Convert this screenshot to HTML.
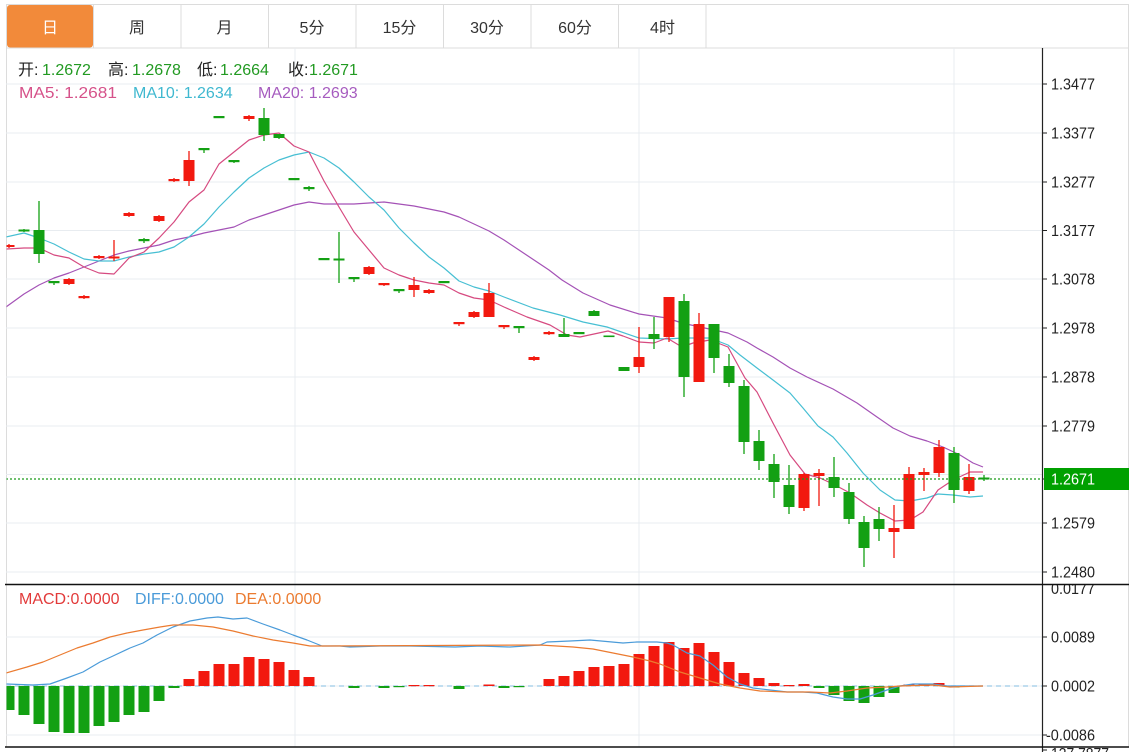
<!DOCTYPE html>
<html><head><meta charset="utf-8"><style>
html,body{margin:0;padding:0;background:#fff;}
svg{display:block;}
text{font-family:"Liberation Sans","Noto Sans CJK SC",sans-serif;}
</style></head><body>
<svg width="1137" height="752" viewBox="0 0 1137 752" xmlns="http://www.w3.org/2000/svg">
<defs>
<clipPath id="cm"><rect x="6.5" y="48.5" width="1035.5" height="535"/></clipPath>
<clipPath id="cd"><rect x="6.5" y="585" width="1035.5" height="161.5"/></clipPath>
<clipPath id="cz"><rect x="1043" y="585" width="90" height="170"/></clipPath>
</defs>
<!-- tab bar -->
<rect x="6.5" y="4.5" width="1122" height="43.5" fill="#fff" stroke="#dcdcdc"/>
<rect x="7" y="5" width="86" height="42.5" rx="3" fill="#f28a3a"/>
<g stroke="#dcdcdc">
<line x1="93.5" y1="5" x2="93.5" y2="48"/><line x1="181" y1="5" x2="181" y2="48"/><line x1="268.5" y1="5" x2="268.5" y2="48"/><line x1="356" y1="5" x2="356" y2="48"/><line x1="443.5" y1="5" x2="443.5" y2="48"/><line x1="531" y1="5" x2="531" y2="48"/><line x1="618.5" y1="5" x2="618.5" y2="48"/><line x1="706" y1="5" x2="706" y2="48"/>
</g>
<g font-size="16" fill="#333" text-anchor="middle">
<text x="50" y="33" fill="#fff">日</text><text x="137" y="33">周</text><text x="224.5" y="33">月</text><text x="312" y="33">5分</text><text x="399.5" y="33">15分</text><text x="487" y="33">30分</text><text x="575" y="33">60分</text><text x="662.5" y="33">4时</text>
</g>
<!-- frame -->
<g stroke="#dcdcdc">
<line x1="6.5" y1="48" x2="6.5" y2="747"/><line x1="1128.5" y1="48" x2="1128.5" y2="747"/>
</g>
<!-- grids -->
<g stroke="#e8ecf0" stroke-width="1">
<line x1="6" y1="84" x2="1042" y2="84"/><line x1="6" y1="133" x2="1042" y2="133"/><line x1="6" y1="182" x2="1042" y2="182"/><line x1="6" y1="230.5" x2="1042" y2="230.5"/><line x1="6" y1="279" x2="1042" y2="279"/><line x1="6" y1="328" x2="1042" y2="328"/><line x1="6" y1="377" x2="1042" y2="377"/><line x1="6" y1="426" x2="1042" y2="426"/><line x1="6" y1="474.5" x2="1042" y2="474.5"/><line x1="6" y1="523" x2="1042" y2="523"/><line x1="6" y1="572" x2="1042" y2="572"/>
<line x1="6" y1="637" x2="1042" y2="637"/><line x1="6" y1="686" x2="1042" y2="686"/><line x1="6" y1="735" x2="1042" y2="735"/>
<line x1="295" y1="48" x2="295" y2="747"/><line x1="639" y1="48" x2="639" y2="747"/><line x1="954" y1="48" x2="954" y2="747"/>
</g>
<!-- main panel -->
<g clip-path="url(#cm)">
<g fill="none" stroke-width="1.2" stroke-linejoin="round">
<polyline stroke="#a452b6" points="6,307 24,294 39,285 54,278 69,273 84,267 99,261 114,255 129,251 144,248 159,245 174,240 189,237 204,233 219,230 234,227 249,220 264,215 279,210 294,205 309,202 324,204 339,204 354,204 369,203 384,202 399,204 414,206 429,209 444,212 459,217 474,224 489,231 504,240 519,250 534,260 549,270 562,280 583,293 610,305 639,314 667,318 682,323 700,327 728,333 747,342 757,348 773,357 790,368 807,377 833,389 857,403 877,417 893,428 910,436 927,441 943,447 960,455 973,463 983,467"/>
<polyline stroke="#47bfd3" points="6,237 24,233 39,238 54,244 69,252 84,259 99,261 114,261 129,257 144,254 159,252 174,247 189,237 204,224 219,207 234,192 249,178 264,168 279,160 294,155 309,152 324,158 339,168 354,182 369,197 384,210 399,228 414,243 429,257 444,268 459,281 474,287 489,291 504,297 533,308 560,315 583,322 607,327 639,338 667,339 683,338 710,338 728,345 740,355 757,368 773,380 790,393 803,408 818,426 833,437 847,453 863,473 880,490 895,500 910,501 927,498 938,494 953,495 970,497 983,496"/>
<polyline stroke="#d64a80" points="6,249 24,248 39,248 54,255 69,258 84,267 99,273 114,274 129,258 144,252 159,238 174,222 189,202 204,190 219,164 234,152 249,140 264,135 279,133 294,146 309,152 324,181 339,207 354,232 369,250 384,268 399,275 414,280 429,283 444,285 459,293 474,298 489,300 504,307 527,317 550,325 567,335 580,337 608,331 623,336 639,342 654,343 667,338 682,347 693,343 710,340 728,347 745,378 757,392 773,423 790,455 805,474 820,478 833,484 850,493 867,505 880,513 895,521 910,520 923,512 938,490 953,480 970,472 983,472"/>
</g>
<!-- red candles -->
<g fill="#f2190f" stroke="#f2190f" stroke-width="1.3">
<line x1="9" y1="244" x2="9" y2="248"/><rect x="3.5" y="245" width="11" height="2" stroke="none"/>
<line x1="69" y1="278" x2="69" y2="285"/><rect x="63.5" y="279" width="11" height="5" stroke="none"/>
<line x1="84" y1="295" x2="84" y2="299"/><rect x="78.5" y="296" width="11" height="2.2" stroke="none"/>
<line x1="99" y1="255" x2="99" y2="259"/><rect x="93.5" y="256" width="11" height="2.2" stroke="none"/>
<line x1="114" y1="240" x2="114" y2="261"/><rect x="108.5" y="256.5" width="11" height="2" stroke="none"/>
<line x1="129" y1="212" x2="129" y2="217"/><rect x="123.5" y="213" width="11" height="3" stroke="none"/>
<line x1="159" y1="215" x2="159" y2="222"/><rect x="153.5" y="216" width="11" height="5" stroke="none"/>
<line x1="174" y1="178" x2="174" y2="182"/><rect x="168.5" y="179" width="11" height="2.2" stroke="none"/>
<line x1="189" y1="151" x2="189" y2="186"/><rect x="183.5" y="160" width="11" height="21" stroke="none"/>
<line x1="249" y1="115" x2="249" y2="121"/><rect x="243.5" y="116" width="11" height="3" stroke="none"/>
<line x1="369" y1="266" x2="369" y2="275"/><rect x="363.5" y="267" width="11" height="7" stroke="none"/>
<line x1="384" y1="283" x2="384" y2="286"/><rect x="378.5" y="283" width="11" height="2.2" stroke="none"/>
<line x1="414" y1="277" x2="414" y2="297"/><rect x="408.5" y="285" width="11" height="5" stroke="none"/>
<line x1="429" y1="289" x2="429" y2="294"/><rect x="423.5" y="290" width="11" height="3" stroke="none"/>
<line x1="459" y1="322" x2="459" y2="326"/><rect x="453.5" y="322" width="11" height="2.2" stroke="none"/>
<line x1="474" y1="311" x2="474" y2="318"/><rect x="468.5" y="312" width="11" height="5" stroke="none"/>
<line x1="489" y1="283" x2="489" y2="317"/><rect x="483.5" y="293" width="11" height="24" stroke="none"/>
<line x1="504" y1="325" x2="504" y2="329"/><rect x="498.5" y="325" width="11" height="2.2" stroke="none"/>
<line x1="534" y1="356" x2="534" y2="361"/><rect x="528.5" y="357" width="11" height="3" stroke="none"/>
<line x1="549" y1="331" x2="549" y2="335"/><rect x="543.5" y="332" width="11" height="2.2" stroke="none"/>
<line x1="639" y1="327" x2="639" y2="373"/><rect x="633.5" y="357" width="11" height="10" stroke="none"/>
<line x1="669" y1="297" x2="669" y2="342"/><rect x="663.5" y="297" width="11" height="40" stroke="none"/>
<line x1="699" y1="313" x2="699" y2="382"/><rect x="693.5" y="324" width="11" height="58" stroke="none"/>
<line x1="804" y1="473" x2="804" y2="511"/><rect x="798.5" y="474" width="11" height="34" stroke="none"/>
<line x1="819" y1="469" x2="819" y2="506"/><rect x="813.5" y="473" width="11" height="3" stroke="none"/>
<line x1="894" y1="505" x2="894" y2="558"/><rect x="888.5" y="528" width="11" height="4" stroke="none"/>
<line x1="909" y1="467" x2="909" y2="529"/><rect x="903.5" y="474" width="11" height="55" stroke="none"/>
<line x1="924" y1="468" x2="924" y2="491"/><rect x="918.5" y="472" width="11" height="3" stroke="none"/>
<line x1="939" y1="440" x2="939" y2="477"/><rect x="933.5" y="447" width="11" height="26" stroke="none"/>
<line x1="969" y1="464" x2="969" y2="494"/><rect x="963.5" y="477" width="11" height="14" stroke="none"/>
</g>
<!-- green candles -->
<g fill="#13a013" stroke="#13a013" stroke-width="1.3">
<line x1="24" y1="229" x2="24" y2="232"/><rect x="18.5" y="229.5" width="11" height="2" stroke="none"/>
<line x1="39" y1="201" x2="39" y2="263"/><rect x="33.5" y="230" width="11" height="24" stroke="none"/>
<line x1="54" y1="281" x2="54" y2="285"/><rect x="48.5" y="281" width="11" height="2.2" stroke="none"/>
<line x1="144" y1="238" x2="144" y2="243"/><rect x="138.5" y="239" width="11" height="2.2" stroke="none"/>
<line x1="204" y1="148" x2="204" y2="153"/><rect x="198.5" y="148" width="11" height="2.2" stroke="none"/>
<rect x="213.5" y="116" width="11" height="2.2" stroke="none"/>
<line x1="234" y1="160" x2="234" y2="163"/><rect x="228.5" y="160" width="11" height="2.2" stroke="none"/>
<line x1="264" y1="108" x2="264" y2="141"/><rect x="258.5" y="118" width="11" height="17" stroke="none"/>
<line x1="279" y1="134" x2="279" y2="139"/><rect x="273.5" y="134" width="11" height="4" stroke="none"/>
<rect x="288.5" y="178" width="11" height="2.2" stroke="none"/>
<line x1="309" y1="186" x2="309" y2="191"/><rect x="303.5" y="187" width="11" height="2.2" stroke="none"/>
<rect x="318.5" y="258" width="11" height="2.2" stroke="none"/>
<line x1="339" y1="232" x2="339" y2="283"/><rect x="333.5" y="258.5" width="11" height="2" stroke="none"/>
<line x1="354" y1="277" x2="354" y2="282"/><rect x="348.5" y="277" width="11" height="2.2" stroke="none"/>
<line x1="399" y1="289" x2="399" y2="293"/><rect x="393.5" y="289" width="11" height="2.2" stroke="none"/>
<rect x="438.5" y="281" width="11" height="2.2" stroke="none"/>
<line x1="519" y1="326" x2="519" y2="333"/><rect x="513.5" y="326" width="11" height="2.2" stroke="none"/>
<line x1="564" y1="318" x2="564" y2="337"/><rect x="558.5" y="334" width="11" height="3" stroke="none"/>
<rect x="573.5" y="332" width="11" height="2.2" stroke="none"/>
<line x1="594" y1="310" x2="594" y2="316"/><rect x="588.5" y="311" width="11" height="5" stroke="none"/>
<rect x="603.5" y="335.5" width="11" height="1.6" stroke="none"/>
<rect x="618.5" y="367" width="11" height="4" stroke="none"/>
<line x1="654" y1="317" x2="654" y2="349"/><rect x="648.5" y="334" width="11" height="5" stroke="none"/>
<line x1="684" y1="294" x2="684" y2="397"/><rect x="678.5" y="301" width="11" height="76" stroke="none"/>
<line x1="714" y1="324" x2="714" y2="373"/><rect x="708.5" y="324" width="11" height="34" stroke="none"/>
<line x1="729" y1="354" x2="729" y2="387"/><rect x="723.5" y="366" width="11" height="17" stroke="none"/>
<line x1="744" y1="380" x2="744" y2="454"/><rect x="738.5" y="386" width="11" height="56" stroke="none"/>
<line x1="759" y1="430" x2="759" y2="470"/><rect x="753.5" y="441" width="11" height="20" stroke="none"/>
<line x1="774" y1="454" x2="774" y2="498"/><rect x="768.5" y="464" width="11" height="18" stroke="none"/>
<line x1="789" y1="465" x2="789" y2="514"/><rect x="783.5" y="485" width="11" height="22" stroke="none"/>
<line x1="834" y1="457" x2="834" y2="497"/><rect x="828.5" y="477" width="11" height="11" stroke="none"/>
<line x1="849" y1="483" x2="849" y2="524"/><rect x="843.5" y="492" width="11" height="27" stroke="none"/>
<line x1="864" y1="516" x2="864" y2="567"/><rect x="858.5" y="522" width="11" height="26" stroke="none"/>
<line x1="879" y1="507" x2="879" y2="541"/><rect x="873.5" y="519" width="11" height="10" stroke="none"/>
<line x1="954" y1="447" x2="954" y2="503"/><rect x="948.5" y="453" width="11" height="37" stroke="none"/>
<line x1="984" y1="475" x2="984" y2="481"/><rect x="978.5" y="477.5" width="11" height="2" stroke="none"/>
</g>
<line x1="6" y1="479" x2="1042" y2="479" stroke="#1a9a1a" stroke-width="1.2" stroke-dasharray="2,2"/>
</g>
<!-- legends -->
<g font-size="16">
<text x="18" y="75" fill="#222">开:</text><text x="42" y="75" fill="#229a22">1.2672</text>
<text x="108" y="75" fill="#222">高:</text><text x="132" y="75" fill="#229a22">1.2678</text>
<text x="197" y="75" fill="#222">低:</text><text x="220" y="75" fill="#229a22">1.2664</text>
<text x="288" y="75" fill="#222">收:</text><text x="309" y="75" fill="#229a22">1.2671</text>
<text x="19" y="98" fill="#d6528a" textLength="98" lengthAdjust="spacingAndGlyphs">MA5: 1.2681</text>
<text x="133" y="98" fill="#3fb8d0">MA10: 1.2634</text>
<text x="258" y="98" fill="#a65cbf">MA20: 1.2693</text>
</g>
<!-- MACD panel -->
<g clip-path="url(#cd)">
<line x1="6" y1="686" x2="1042" y2="686" stroke="#9ccbe6" stroke-width="1.2" stroke-dasharray="5,4"/>
<g fill="#f2190f">
<rect x="183.5" y="679" width="11" height="7"/><rect x="198.5" y="671" width="11" height="15"/><rect x="213.5" y="664" width="11" height="22"/><rect x="228.5" y="664" width="11" height="22"/><rect x="243.5" y="657" width="11" height="29"/><rect x="258.5" y="659" width="11" height="27"/><rect x="273.5" y="662" width="11" height="24"/><rect x="288.5" y="670" width="11" height="16"/><rect x="303.5" y="677" width="11" height="9"/>
<rect x="408.5" y="685" width="11" height="1.2"/><rect x="423.5" y="685" width="11" height="1.2"/><rect x="483.5" y="684.5" width="11" height="1.5"/>
<rect x="543.5" y="679" width="11" height="7"/><rect x="558.5" y="676" width="11" height="10"/><rect x="573.5" y="671" width="11" height="15"/><rect x="588.5" y="667" width="11" height="19"/><rect x="603.5" y="666" width="11" height="20"/><rect x="618.5" y="664" width="11" height="22"/><rect x="633.5" y="654" width="11" height="32"/><rect x="648.5" y="646" width="11" height="40"/><rect x="663.5" y="642" width="11" height="44"/><rect x="678.5" y="648" width="11" height="38"/><rect x="693.5" y="643" width="11" height="43"/><rect x="708.5" y="652" width="11" height="34"/><rect x="723.5" y="662" width="11" height="24"/><rect x="738.5" y="673" width="11" height="13"/><rect x="753.5" y="678" width="11" height="8"/><rect x="768.5" y="683" width="11" height="3"/><rect x="783.5" y="685" width="11" height="1.2"/><rect x="798.5" y="684" width="11" height="2"/>
<rect x="903.5" y="684.5" width="11" height="1.5"/><rect x="918.5" y="684.5" width="11" height="1.5"/><rect x="933.5" y="683" width="11" height="3"/>
</g>
<g fill="#13a013">
<rect x="3.5" y="686" width="11" height="24"/><rect x="18.5" y="686" width="11" height="29"/><rect x="33.5" y="686" width="11" height="38"/><rect x="48.5" y="686" width="11" height="46"/><rect x="63.5" y="686" width="11" height="47"/><rect x="78.5" y="686" width="11" height="47"/><rect x="93.5" y="686" width="11" height="40"/><rect x="108.5" y="686" width="11" height="36"/><rect x="123.5" y="686" width="11" height="29"/><rect x="138.5" y="686" width="11" height="26"/><rect x="153.5" y="686" width="11" height="15"/><rect x="168.5" y="686" width="11" height="2"/>
<rect x="348.5" y="686" width="11" height="2"/><rect x="378.5" y="686" width="11" height="2"/><rect x="393.5" y="686" width="11" height="1.2"/><rect x="453.5" y="686" width="11" height="3"/><rect x="498.5" y="686" width="11" height="2"/><rect x="513.5" y="686" width="11" height="1.2"/>
<rect x="813.5" y="686" width="11" height="2"/><rect x="828.5" y="686" width="11" height="9"/><rect x="843.5" y="686" width="11" height="15"/><rect x="858.5" y="686" width="11" height="17"/><rect x="873.5" y="686" width="11" height="11"/><rect x="888.5" y="686" width="11" height="7"/><rect x="948.5" y="686" width="11" height="1.5"/>
</g>
<g fill="none" stroke-width="1.2" stroke-linejoin="round">
<polyline stroke="#4a9bd9" points="6,684 33,685 50,684 67,678 83,672 100,662 113,656 130,648 143,643 157,635 173,627 190,621 207,618 218,617 233,619 247,618 263,624 280,630 293,635 307,640 322,646 340,646 350,647 380,646 410,646 455,647 480,646 510,647 540,645 547,642 570,641 590,640 623,643 637,642 657,642 667,643 673,645 687,653 700,656 713,665 727,677 740,684 753,688 770,690 787,692 803,692 817,693 833,697 847,699 860,699 873,695 887,690 900,686 913,684 933,684 947,686 983,686"/>
<polyline stroke="#eb7b30" points="6,673 27,667 43,662 60,655 77,648 93,643 110,637 127,633 143,630 160,627 173,625 193,625 213,627 233,631 253,636 273,640 293,643 310,646 323,646 540,645 573,647 593,649 613,653 633,657 650,661 660,664 680,672 700,678 720,684 740,688 760,691 787,692 810,692 830,693 847,691 867,688 887,687 900,686 933,685 950,687 983,686"/>
</g>
</g>
<g font-size="16">
<text x="19" y="604" fill="#e23a3a">MACD:0.0000</text>
<text x="135" y="604" fill="#4a9bd9">DIFF:0.0000</text>
<text x="235" y="604" fill="#eb7b30">DEA:0.0000</text>
</g>
<!-- axis -->
<line x1="1042.5" y1="48" x2="1042.5" y2="752" stroke="#222" stroke-width="1.2"/>
<g stroke="#222" stroke-width="1">
<line x1="1042" y1="84" x2="1047" y2="84"/><line x1="1042" y1="133" x2="1047" y2="133"/><line x1="1042" y1="182" x2="1047" y2="182"/><line x1="1042" y1="230.5" x2="1047" y2="230.5"/><line x1="1042" y1="279" x2="1047" y2="279"/><line x1="1042" y1="328" x2="1047" y2="328"/><line x1="1042" y1="377" x2="1047" y2="377"/><line x1="1042" y1="426" x2="1047" y2="426"/><line x1="1042" y1="479" x2="1047" y2="479"/><line x1="1042" y1="523" x2="1047" y2="523"/><line x1="1042" y1="572" x2="1047" y2="572"/>
<line x1="1042" y1="637" x2="1047" y2="637"/><line x1="1042" y1="686" x2="1047" y2="686"/><line x1="1042" y1="735" x2="1047" y2="735"/><line x1="1042" y1="750" x2="1047" y2="750"/>
</g>
<g font-size="16" fill="#222">
<text x="1051" y="89.5" textLength="44" lengthAdjust="spacingAndGlyphs">1.3477</text>
<text x="1051" y="138.5" textLength="44" lengthAdjust="spacingAndGlyphs">1.3377</text>
<text x="1051" y="187.5" textLength="44" lengthAdjust="spacingAndGlyphs">1.3277</text>
<text x="1051" y="236" textLength="44" lengthAdjust="spacingAndGlyphs">1.3177</text>
<text x="1051" y="284.5" textLength="44" lengthAdjust="spacingAndGlyphs">1.3078</text>
<text x="1051" y="333.5" textLength="44" lengthAdjust="spacingAndGlyphs">1.2978</text>
<text x="1051" y="382.5" textLength="44" lengthAdjust="spacingAndGlyphs">1.2878</text>
<text x="1051" y="431.5" textLength="44" lengthAdjust="spacingAndGlyphs">1.2779</text>
<text x="1051" y="528.5" textLength="44" lengthAdjust="spacingAndGlyphs">1.2579</text>
<text x="1051" y="577.5" textLength="44" lengthAdjust="spacingAndGlyphs">1.2480</text>
<text x="1051" y="642.5" textLength="44" lengthAdjust="spacingAndGlyphs">0.0089</text>
<text x="1051" y="691.5" textLength="44" lengthAdjust="spacingAndGlyphs">0.0002</text>
<text x="1046" y="740.5" textLength="49" lengthAdjust="spacingAndGlyphs">-0.0086</text>
</g>
<g clip-path="url(#cz)" font-size="16" fill="#222">
<text x="1051" y="594" textLength="44" lengthAdjust="spacingAndGlyphs">0.0177</text>
<text x="1051" y="759" textLength="58" lengthAdjust="spacingAndGlyphs">137.7877</text>
</g>
<rect x="1044" y="468" width="85" height="22" fill="#00a000"/>
<text x="1051" y="484.5" font-size="16" fill="#fff" textLength="44" lengthAdjust="spacingAndGlyphs">1.2671</text>
<!-- separators -->
<line x1="5" y1="584.5" x2="1129" y2="584.5" stroke="#111" stroke-width="1.5"/>
<line x1="5" y1="747" x2="1129" y2="747" stroke="#111" stroke-width="1.5"/>
</svg>
</body></html>
